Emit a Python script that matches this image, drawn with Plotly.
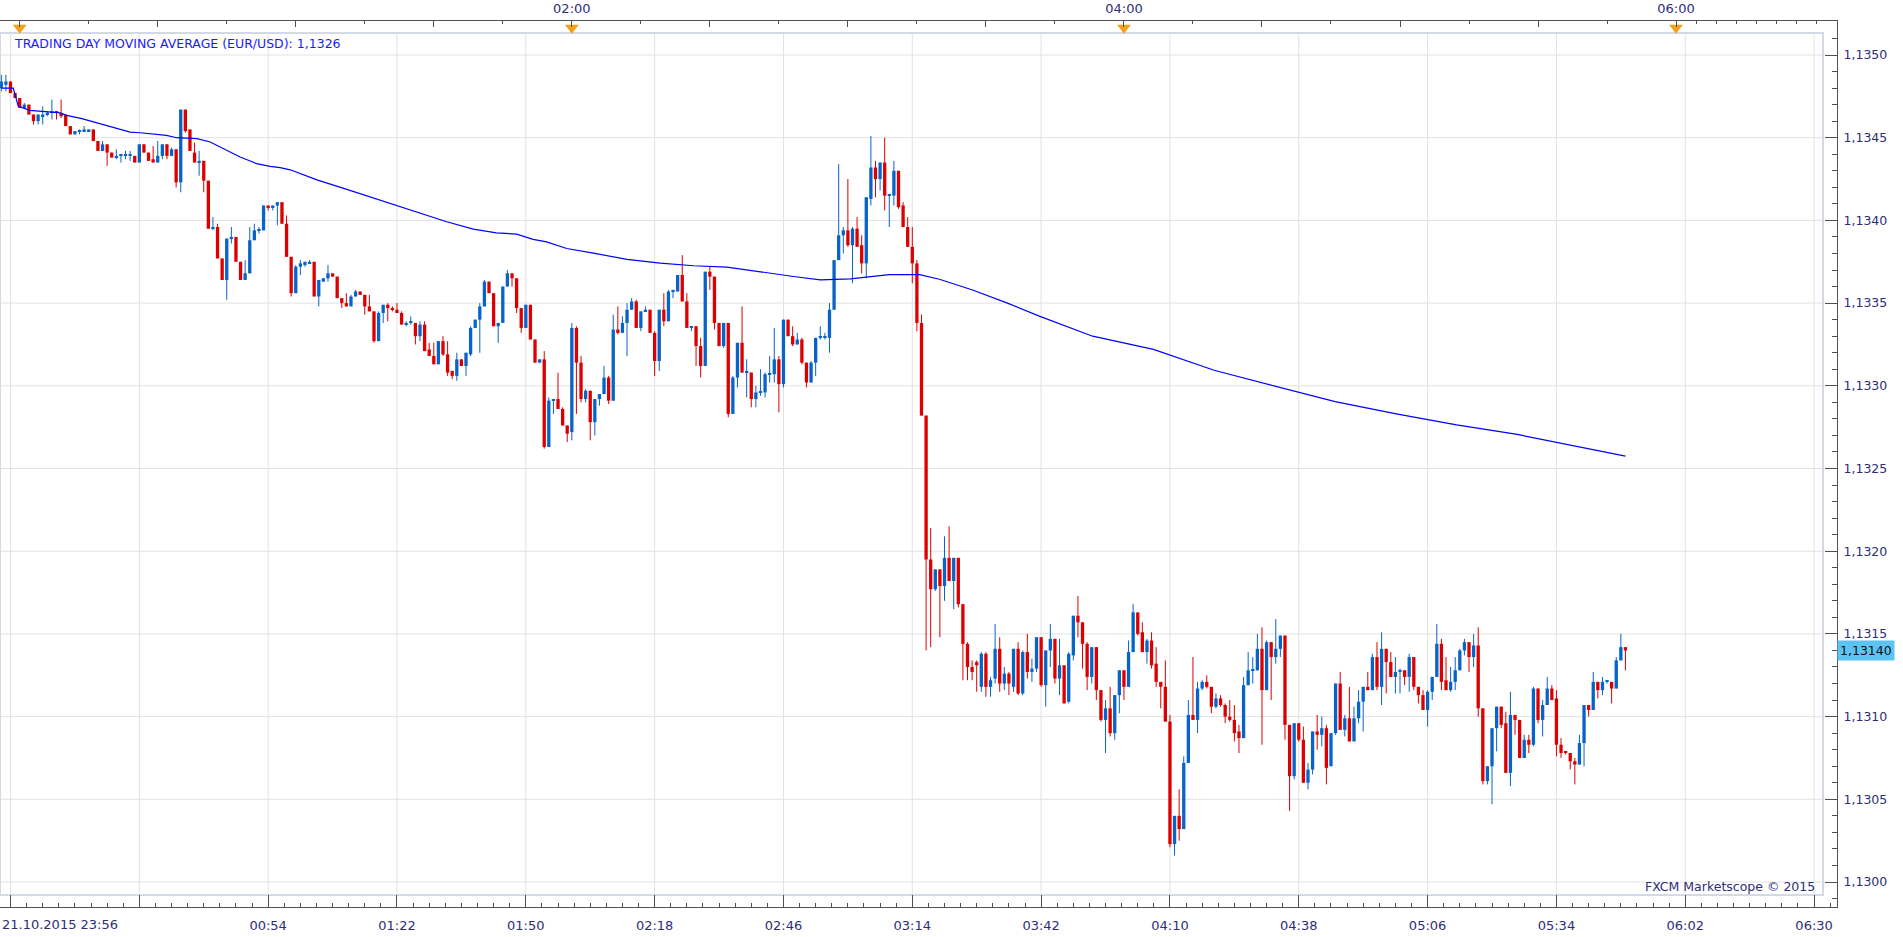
import plotly.graph_objects as go

# ---------------- data (EUR/USD 1-minute candles, 21.10.2015 23:56 -> 22.10.2015 05:49) -------------
# prices are stored as pipettes above PRICE_BASE  (price = PRICE_BASE + value * PIPETTE)
PRICE_BASE = 1.13
PIPETTE = 0.00001

open_pt = [
    480, 482, 484, 477, 474, 468, 470, 464, 460, 463,
    464, 465, 466, 465, 464, 457, 452, 454, 454, 454,
    455, 448, 442, 446, 441, 438, 439, 439, 439, 439,
    435, 446, 441, 437, 435, 439, 446, 439, 443, 423,
    467, 455, 441, 435, 436, 424, 395, 396, 377, 364,
    389, 390, 375, 364, 368, 388, 394, 394, 409, 408,
    409, 411, 398, 378, 356, 372, 373, 374, 375, 354,
    363, 365, 368, 366, 353, 350, 348, 354, 357, 355,
    348, 345, 327, 344, 349, 347, 346, 344, 337, 338,
    338, 330, 337, 322, 318, 313, 327, 319, 309, 306,
    316, 312, 319, 335, 340, 348, 363, 356, 336, 338,
    360, 368, 365, 347, 335, 349, 328, 314, 316, 263,
    291, 292, 286, 276, 272, 335, 314, 292, 297, 278,
    292, 295, 305, 291, 334, 332, 338, 346, 351, 335,
    345, 346, 332, 315, 346, 339, 357, 357, 367, 351,
    335, 336, 324, 312, 369, 366, 338, 324, 338, 283,
    305, 326, 308, 308, 292, 296, 296, 307, 307, 316,
    301, 340, 330, 325, 328, 314, 302, 314, 329, 329,
    329, 346, 376, 391, 394, 385, 395, 385, 374, 413,
    432, 425, 435, 415, 415, 430, 409, 396, 384, 374,
    338, 282, 195, 177, 189, 179, 196, 182, 196, 168,
    144, 130, 133, 118, 138, 118, 123, 141, 120, 126,
    118, 141, 114, 139, 127, 129, 148, 119, 140, 147,
    123, 131, 109, 137, 161, 157, 144, 124, 142, 116,
    98, 105, 90, 113, 128, 118, 139, 163, 151, 139,
    146, 132, 121, 118, 97, 23, 40, 32, 72, 101,
    98, 117, 121, 118, 106, 111, 107, 100, 98, 91,
    87, 119, 128, 128, 141, 116, 145, 136, 141, 149,
    95, 64, 96, 86, 60, 68, 91, 89, 93, 70,
    90, 120, 92, 99, 85, 99, 109, 118, 116, 136,
    118, 141, 133, 124, 127, 128, 124, 136, 118, 113,
    104, 115, 124, 144, 122, 116, 121, 128, 140, 145,
    136, 143, 105, 61, 70, 93, 106, 96, 66, 101,
    98, 75, 86, 83, 117, 98, 107, 117, 111, 83,
    79, 78, 73, 71, 84, 107, 104, 121, 116, 121,
    121, 117, 134, 142,
]

high_pt = [
    488, 488, 484, 477, 474, 471, 470, 464, 464, 469,
    466, 473, 466, 473, 464, 457, 454, 455, 457, 455,
    455, 448, 448, 446, 441, 443, 440, 442, 442, 439,
    446, 446, 441, 445, 448, 446, 446, 444, 443, 467,
    467, 455, 447, 442, 436, 424, 402, 398, 377, 389,
    396, 390, 375, 376, 396, 398, 396, 409, 409, 409,
    411, 411, 403, 378, 373, 376, 375, 376, 375, 364,
    365, 373, 368, 366, 353, 356, 355, 358, 357, 355,
    355, 345, 345, 349, 350, 348, 350, 345, 339, 342,
    338, 339, 339, 326, 326, 327, 330, 327, 309, 320,
    316, 320, 336, 340, 350, 364, 363, 356, 338, 360,
    370, 368, 365, 347, 349, 349, 328, 316, 321, 293,
    292, 308, 287, 276, 338, 336, 318, 298, 297, 292,
    295, 312, 306, 343, 348, 342, 350, 353, 352, 345,
    348, 346, 333, 346, 356, 358, 358, 367, 379, 356,
    336, 336, 329, 369, 372, 366, 338, 338, 338, 306,
    326, 348, 316, 308, 300, 310, 308, 318, 335, 318,
    340, 340, 336, 332, 329, 314, 315, 329, 336, 332,
    350, 376, 434, 396, 425, 396, 402, 391, 414, 451,
    436, 435, 450, 416, 436, 430, 411, 402, 396, 376,
    343, 282, 214, 189, 189, 209, 215, 196, 196, 168,
    145, 134, 134, 139, 139, 124, 156, 148, 130, 127,
    141, 145, 140, 150, 135, 148, 148, 140, 156, 147,
    147, 131, 139, 161, 173, 157, 145, 142, 142, 116,
    110, 118, 113, 128, 128, 146, 168, 163, 157, 147,
    151, 142, 121, 134, 101, 40, 56, 76, 110, 136,
    121, 122, 125, 118, 114, 113, 108, 110, 107, 95,
    124, 139, 136, 150, 154, 146, 145, 159, 149, 149,
    95, 96, 96, 94, 72, 91, 101, 100, 95, 90,
    120, 127, 101, 118, 106, 116, 118, 127, 138, 145,
    151, 141, 139, 136, 129, 128, 138, 136, 118, 116,
    116, 124, 156, 147, 136, 130, 136, 141, 147, 145,
    150, 154, 105, 70, 93, 106, 106, 103, 115, 101,
    98, 89, 89, 118, 117, 110, 124, 119, 116, 87,
    79, 78, 75, 89, 107, 107, 127, 121, 124, 121,
    121, 136, 150, 142,
]

low_pt = [
    478, 478, 477, 474, 468, 468, 464, 458, 458, 458,
    463, 461, 461, 462, 457, 452, 452, 452, 454, 454,
    448, 442, 442, 433, 438, 437, 435, 437, 436, 435,
    435, 441, 436, 435, 435, 437, 437, 439, 420, 417,
    453, 442, 435, 427, 417, 395, 394, 377, 364, 352,
    386, 375, 364, 364, 368, 388, 392, 394, 406, 406,
    397, 398, 378, 354, 356, 367, 372, 374, 354, 348,
    363, 363, 366, 353, 347, 348, 348, 354, 355, 343,
    345, 326, 327, 338, 339, 345, 344, 337, 336, 337,
    325, 327, 321, 318, 313, 313, 318, 306, 304, 303,
    312, 306, 318, 335, 320, 348, 356, 336, 326, 338,
    360, 360, 344, 332, 335, 328, 314, 314, 262, 263,
    283, 286, 276, 266, 267, 283, 290, 290, 267, 270,
    288, 295, 289, 291, 331, 332, 318, 346, 335, 333,
    345, 332, 306, 309, 336, 339, 353, 357, 351, 335,
    333, 312, 305, 312, 358, 334, 324, 323, 281, 283,
    299, 308, 293, 287, 287, 294, 293, 302, 302, 284,
    299, 330, 324, 325, 313, 299, 302, 306, 328, 328,
    320, 346, 376, 380, 384, 362, 384, 368, 365, 409,
    414, 418, 406, 396, 409, 407, 396, 384, 362, 333,
    282, 140, 142, 176, 148, 170, 182, 165, 166, 122,
    122, 122, 115, 115, 112, 112, 120, 115, 116, 113,
    115, 113, 113, 123, 121, 127, 118, 106, 130, 120,
    113, 108, 108, 134, 148, 129, 116, 120, 110, 97,
    78, 88, 86, 102, 110, 118, 139, 149, 139, 132,
    129, 118, 105, 97, 21, 16, 25, 32, 72, 98,
    90, 116, 117, 102, 105, 106, 96, 97, 85, 78,
    87, 119, 120, 128, 83, 116, 110, 132, 136, 86,
    43, 62, 85, 60, 56, 65, 80, 82, 59, 70,
    89, 92, 88, 85, 85, 96, 91, 116, 116, 116,
    107, 114, 124, 114, 114, 119, 115, 116, 108, 104,
    94, 110, 124, 116, 116, 115, 116, 128, 137, 127,
    130, 100, 59, 59, 47, 79, 93, 66, 58, 89,
    75, 75, 78, 82, 96, 88, 107, 110, 76, 75,
    77, 68, 59, 71, 70, 100, 104, 111, 113, 120,
    108, 117, 134, 128,
]

close_pt = [
    484, 484, 477, 474, 468, 470, 464, 460, 464, 464,
    465, 466, 465, 463, 457, 452, 454, 454, 455, 455,
    448, 442, 446, 441, 438, 439, 439, 439, 439, 435,
    446, 441, 436, 435, 439, 446, 439, 443, 423, 467,
    454, 442, 435, 436, 424, 395, 396, 377, 364, 389,
    390, 375, 364, 368, 388, 394, 394, 409, 408, 409,
    411, 398, 378, 356, 372, 374, 375, 375, 354, 364,
    365, 368, 366, 353, 350, 348, 354, 357, 355, 348,
    345, 327, 344, 349, 347, 346, 344, 337, 338, 338,
    330, 337, 321, 318, 313, 327, 319, 308, 306, 316,
    312, 320, 335, 340, 348, 363, 356, 336, 338, 360,
    368, 365, 347, 335, 349, 328, 314, 316, 263, 291,
    292, 286, 276, 271, 335, 314, 292, 297, 278, 292,
    295, 305, 291, 334, 332, 338, 346, 351, 335, 345,
    346, 332, 315, 346, 339, 357, 358, 367, 351, 335,
    336, 324, 312, 369, 366, 338, 324, 338, 283, 305,
    326, 308, 308, 292, 296, 296, 307, 307, 316, 301,
    340, 330, 325, 328, 314, 302, 314, 329, 329, 329,
    346, 376, 391, 394, 385, 395, 384, 374, 414, 432,
    425, 435, 415, 416, 430, 408, 396, 384, 374, 338,
    282, 195, 177, 189, 179, 196, 182, 196, 168, 144,
    130, 127, 131, 138, 118, 122, 141, 120, 126, 120,
    141, 114, 139, 127, 129, 148, 119, 140, 147, 123,
    131, 108, 138, 161, 157, 144, 124, 142, 116, 98,
    105, 90, 113, 128, 118, 139, 163, 150, 139, 146,
    131, 121, 118, 97, 23, 40, 32, 72, 101, 98,
    117, 121, 118, 106, 111, 107, 100, 98, 90, 87,
    119, 128, 128, 141, 116, 145, 136, 141, 149, 95,
    64, 96, 86, 60, 68, 91, 89, 93, 69, 90,
    120, 92, 99, 85, 99, 109, 118, 116, 136, 118,
    141, 133, 124, 127, 128, 124, 136, 118, 113, 104,
    115, 124, 144, 121, 116, 121, 128, 140, 145, 136,
    143, 105, 61, 70, 93, 106, 95, 66, 101, 98,
    75, 86, 83, 117, 98, 107, 117, 110, 83, 78,
    78, 73, 71, 84, 107, 104, 121, 116, 121, 121,
    117, 134, 142, 140,
]

# minutes after 21.10.2015 23:56 for each candle
candle_minute = list(range(len(open_pt)))

# trading day moving average (minute offset, pipettes above base)
ma_minute = [0, 2.6, 3.7, 6.2, 12.8, 14.2, 17.5, 20, 22.9, 25.1, 28, 30.2, 35.9, 38.1, 42.5,
             45.4, 47.5, 49.7, 51.9, 54.1, 55.5, 58.4, 60.6, 62.8, 68.6, 75.1, 82.3, 89.6,
             96.8, 102.6, 107.6, 112, 115.6, 118.5, 122.9, 128.7, 136, 143.2, 150.5, 157.7,
             165, 172.2, 178, 184.5, 193, 199.6, 203.9, 211.1, 218.4, 225.6, 237.2, 250.4,
             263.6, 276.8, 289.9, 303.2, 316.3, 329.5, 342.7, 353]
ma_value = [480, 480, 469, 466.5, 465, 463.5, 461.5, 459.5, 457.5, 455.4, 453.4, 453, 451.4,
            450, 449.4, 447.4, 444.4, 441.3, 438.3, 435.9, 434.3, 432.7, 431.9, 430.6, 424.5,
            418.8, 412.3, 405.3, 399.2, 394.7, 392.5, 391.7, 388.5, 387, 383, 380.2, 376.4,
            374.2, 372.6, 371.8, 368.8, 366.1, 364.1, 364.7, 367.2, 367.2, 364.4, 357.9,
            350.3, 342.1, 330, 322, 309.4, 299.9, 290.4, 283, 276.4, 270.6, 263.2, 257.5]

# bottom time axis (minute offsets from 23:56)
bottom_tick_minute = [2, 30, 58, 86, 114, 142, 170, 198, 226, 254, 282, 310, 338, 366, 394]
bottom_tick_text = ["", "", "00:54", "01:22", "01:50", "02:18", "02:46", "03:14", "03:42",
                    "04:10", "04:38", "05:06", "05:34", "06:02", "06:30"]
# top time axis
top_major_minute = [4, 34, 64, 94, 124, 154, 184, 214, 244, 274, 304, 334, 364]
top_major_text = ["", "", "", "", "02:00", "", "", "", "04:00", "", "", "", "06:00"]
top_minor_minute = [19, 49, 79, 109, 139, 169, 199, 229, 259, 289, 319, 349,
                    368.5, 372.8, 377.1, 381.5, 385.8, 390.1, 394.5]
session_marker_minute = [4, 124, 244, 364]

price_grid = [1.1300, 1.1305, 1.1310, 1.1315, 1.1320, 1.1325, 1.1330, 1.1335, 1.1340, 1.1345, 1.1350]
last_price_text = "1,13140"
ma_label_text = "TRADING DAY MOVING AVERAGE (EUR/USD): 1,1326"
first_date_text = "21.10.2015 23:56"
credit_text = "FXCM Marketscope © 2015"

# ---------------- derived ----------------
def px(v):
    return PRICE_BASE + v * PIPETTE

O = [px(v) for v in open_pt]
H = [px(v) for v in high_pt]
L = [px(v) for v in low_pt]
C = [px(v) for v in close_pt]

UP = "#0864c8"
DOWN = "#dc0000"
FONT = "DejaVu Sans"
NAVY = "#2e2e78"

X_RANGE = [-0.2826, 398.98]
Y_RANGE = [1.1298489, 1.1352056]

fig = go.Figure()

# wicks
for color, is_up in ((UP, True), (DOWN, False)):
    xs, ys = [], []
    for i in candle_minute:
        if (C[i] >= O[i]) == is_up:
            xs += [i, i, None]
            ys += [L[i], H[i], None]
    fig.add_trace(go.Scatter(x=xs, y=ys, mode="lines", line=dict(color=color, width=1),
                             hoverinfo="skip", showlegend=False))

# bodies
min_body = 0.0000065
bases = [min(O[i], C[i]) for i in candle_minute]
heights = [max(abs(C[i] - O[i]), min_body) for i in candle_minute]
colors = [UP if C[i] >= O[i] else DOWN for i in candle_minute]
fig.add_trace(go.Bar(x=candle_minute, y=heights, base=bases, width=0.72,
                     marker=dict(color=colors, line=dict(width=0)),
                     hoverinfo="skip", showlegend=False))

# moving average
fig.add_trace(go.Scatter(x=ma_minute, y=[px(v) for v in ma_value], mode="lines",
                         line=dict(color="#0000ff", width=1.2), hoverinfo="skip",
                         showlegend=False))

# session markers on top axis
fig.add_trace(go.Scatter(x=session_marker_minute, y=[0.9925] * len(session_marker_minute),
                         xaxis="x2", yaxis="y2", mode="markers",
                         marker=dict(symbol="triangle-down", size=12, color="#f4a21c",
                                     line=dict(width=0)),
                         cliponaxis=False, hoverinfo="skip", showlegend=False))

FRAME_X1 = 1823 / 1837
FRAME_Y0 = (907 - 895) / 886
FRAME_Y1 = (907 - 33) / 886

shapes = []
for gx in bottom_tick_minute:
    shapes.append(dict(type="line", xref="x", yref="paper", x0=gx, x1=gx, y0=FRAME_Y0, y1=FRAME_Y1,
                       line=dict(color="#e2e2e2", width=1), layer="below"))
for gy in price_grid:
    shapes.append(dict(type="line", xref="paper", yref="y", x0=0, x1=FRAME_X1, y0=gy, y1=gy,
                       line=dict(color="#e2e2e2", width=1), layer="below"))
shapes.append(dict(type="rect", xref="paper", yref="paper", x0=0, x1=FRAME_X1, y0=FRAME_Y0,
                   y1=FRAME_Y1, line=dict(color="#d3dae5", width=2), layer="below"))

annotations = [
    dict(xref="paper", yref="paper", x=12 / 1837, y=(907 - 43.5) / 886, text=ma_label_text,
         showarrow=False, xanchor="left", yanchor="middle",
         font=dict(family=FONT, size=12.5, color="#1a1aff")),
    dict(xref="paper", yref="paper", x=1817 / 1837, y=(907 - 886) / 886, text=credit_text,
         showarrow=False, xanchor="right", yanchor="middle",
         font=dict(family=FONT, size=12.5, color=NAVY)),
    dict(xref="paper", yref="paper", x=0, y=(907 - 924) / 886, text=first_date_text,
         showarrow=False, xanchor="left", yanchor="middle",
         font=dict(family=FONT, size=13, color=NAVY)),
    dict(xref="paper", yref="y", x=1.0, y=px(close_pt[-1]), text=last_price_text,
         showarrow=False, xanchor="left", yanchor="middle", bgcolor="#5cc4f2",
         borderpad=2, font=dict(family=FONT, size=12.5, color="#111111")),
]

fig.update_layout(
    width=1903, height=937,
    margin=dict(l=0, r=66, t=21, b=30),
    paper_bgcolor="white", plot_bgcolor="white",
    separators=",.",
    showlegend=False,
    barmode="overlay",
    shapes=shapes,
    annotations=annotations,
    xaxis=dict(range=X_RANGE, showgrid=False, zeroline=False, showline=True,
               linecolor="#505050", linewidth=1, ticks="inside", ticklen=12, tickwidth=1,
               tickcolor="#505050", tickmode="array", tickvals=bottom_tick_minute,
               ticktext=bottom_tick_text, ticklabelstandoff=6,
               tickfont=dict(family=FONT, size=13, color=NAVY),
               minor=dict(tick0=2, dtick=3.5, ticks="inside", ticklen=4, tickwidth=1,
                          tickcolor="#505050", showgrid=False)),
    xaxis2=dict(overlaying="x", side="top", range=X_RANGE, showgrid=False, zeroline=False,
                showline=True, linecolor="#505050", linewidth=1, ticks="inside", ticklen=6,
                tickwidth=1, tickcolor="#505050", tickmode="array", tickvals=top_major_minute,
                ticktext=top_major_text, ticklabelstandoff=2,
                tickfont=dict(family=FONT, size=13, color=NAVY),
                minor=dict(tickmode="array", tickvals=top_minor_minute, ticks="inside",
                           ticklen=3, tickwidth=1, tickcolor="#505050", showgrid=False)),
    yaxis=dict(side="right", range=Y_RANGE, showgrid=False, zeroline=False, showline=True,
               linecolor="#505050", linewidth=1, ticks="inside", ticklen=12, tickwidth=1,
               tickcolor="#505050", tick0=1.13, dtick=0.0005, tickformat=".4f",
               ticklabelstandoff=3, tickfont=dict(family=FONT, size=12.5, color=NAVY),
               minor=dict(tick0=1.13, dtick=0.0001, ticks="inside", ticklen=5, tickwidth=1,
                          tickcolor="#505050", showgrid=False)),
    yaxis2=dict(overlaying="y", range=[0, 1], visible=False, fixedrange=True),
)

fig.write_html("out.html")
